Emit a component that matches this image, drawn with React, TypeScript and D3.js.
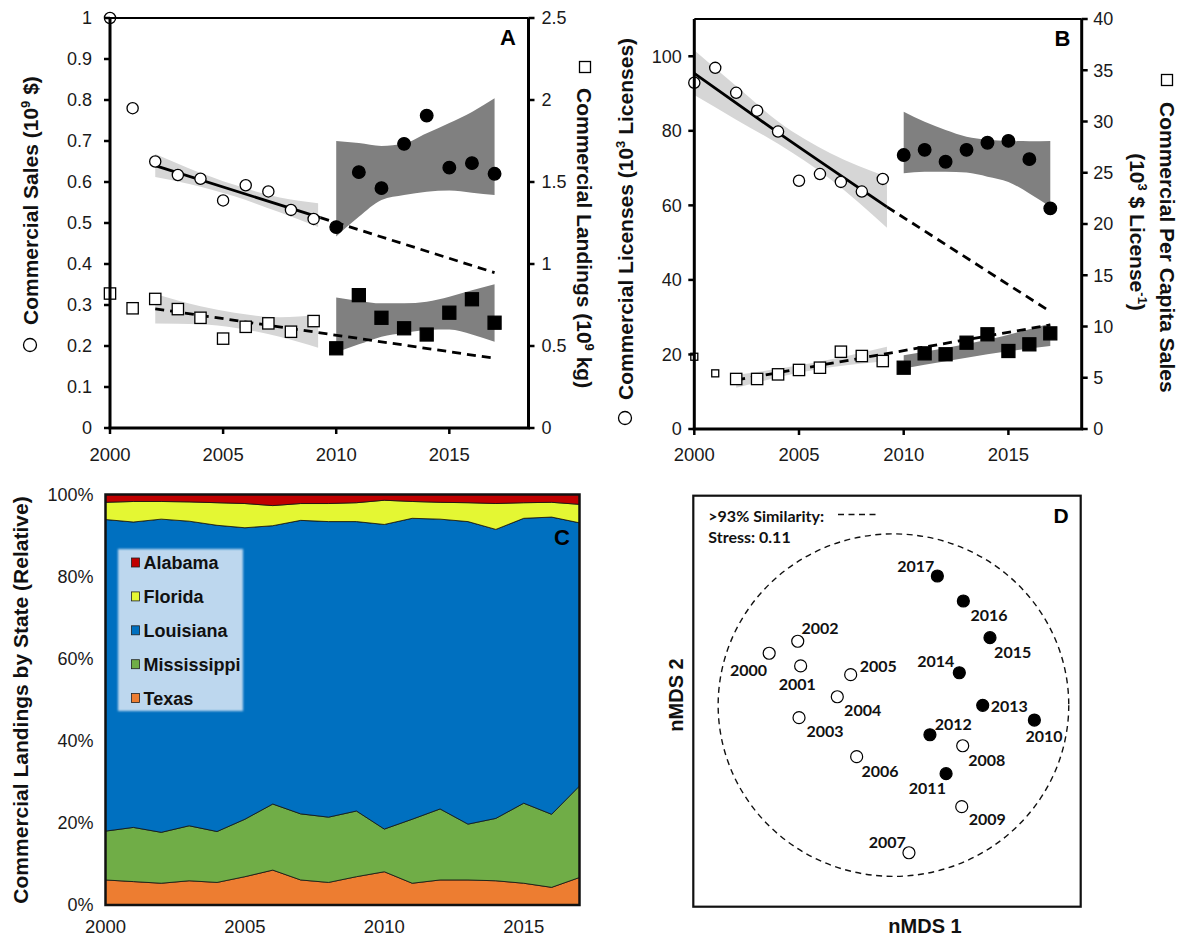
import React from "react";
import * as d3 from "d3";

// ---------- shared categories ----------
const YEARS = [2000, 2001, 2002, 2003, 2004, 2005, 2006, 2007, 2008, 2009, 2010, 2011, 2012, 2013, 2014, 2015, 2016, 2017];
const FILLED_FROM = 2010;
const X_TICKS = [2000, 2005, 2010, 2015];
const POST_YEARS = [2010, 2011, 2012, 2013, 2014, 2015, 2016, 2017];

// ---------- Panel A ----------
const salesA = [1.0, 0.78, 0.65, 0.617, 0.608, 0.555, 0.592, 0.577, 0.532, 0.51, 0.49, 0.624, 0.585, 0.693, 0.762, 0.635, 0.646, 0.62];
const landingsA = [0.82, 0.73, 0.787, 0.725, 0.672, 0.545, 0.617, 0.638, 0.587, 0.652, 0.486, 0.81, 0.672, 0.608, 0.57, 0.703, 0.785, 0.642];
const salesFitYearsA = [2002, 2009.3];
const salesFitA = [0.64, 0.513];
const salesProjYearsA = [2009.3, 2017];
const salesProjA = [0.513, 0.379];
const landingsFitYearsA = [2002, 2017];
const landingsFitA = [0.727, 0.425];
const salesBandYearsA = [2002, 2003.5, 2005.5, 2007.5, 2009.2];
const salesBandLoA = [0.612, 0.595, 0.565, 0.526, 0.49];
const salesBandHiA = [0.668, 0.633, 0.593, 0.562, 0.548];
const salesBandLoA2 = [0.467, 0.515, 0.556, 0.568, 0.576, 0.579, 0.574, 0.568];
const salesBandHiA2 = [0.70, 0.695, 0.688, 0.694, 0.719, 0.744, 0.771, 0.804];
const landingsBandYearsA = [2002, 2004, 2005.5, 2007.5, 2009.2];
const landingsBandLoA = [0.637, 0.632, 0.612, 0.556, 0.49];
const landingsBandHiA = [0.817, 0.742, 0.702, 0.676, 0.689];
const landingsBandLoA2 = [0.462, 0.51, 0.557, 0.58, 0.598, 0.6, 0.57, 0.526];
const landingsBandHiA2 = [0.795, 0.775, 0.76, 0.76, 0.77, 0.8, 0.84, 0.876];
const leftTicksA = [0, 0.1, 0.2, 0.3, 0.4, 0.5, 0.6, 0.7, 0.8, 0.9, 1];
const rightTicksA = [0, 0.5, 1, 1.5, 2, 2.5];

// ---------- Panel B ----------
const licensesB = [92.9, 96.9, 90.2, 85.4, 79.8, 66.6, 68.4, 66.3, 63.7, 67.1, 73.5, 74.9, 71.7, 74.9, 76.8, 77.3, 72.4, 59.2];
const perCapitaB = [7.05, 5.43, 4.88, 4.88, 5.33, 5.76, 5.98, 7.54, 7.12, 6.63, 5.98, 7.38, 7.29, 8.42, 9.24, 7.61, 8.26, 9.33];
const licFitYearsB = [2000, 2004, 2009.2];
const licFitB = [95.4, 79.5, 59.6];
const licProjYearsB = [2009.2, 2017];
const licProjB = [59.6, 31.5];
const pcFitYearsB = [2002, 2017];
const pcFitB = [4.78, 10.15];
const licBandYearsB = [2000, 2002, 2004, 2006.5, 2009.2];
const licBandLoB = [89.6, 83, 76.5, 67, 54];
const licBandHiB = [101.6, 92, 82.5, 74, 67.7];
const licBandLoB2 = [68.6, 69, 69, 68.8, 67.7, 66.3, 63.2, 59.6];
const licBandHiB2 = [85.1, 82.4, 80.2, 78.4, 77.6, 77.3, 77.2, 77.3];
const pcBandYearsB = [2002, 2005.5, 2009.2];
const pcBandLoB = [4.03, 5.68, 6.63];
const pcBandHiB = [5.27, 6.38, 8.03];
const pcBandYearsB2 = [2010, 2012, 2014, 2017];
const pcBandLoB2 = [5.9, 6.6, 7.3, 8.1];
const pcBandHiB2 = [7.2, 7.9, 8.7, 10.3];
const leftTicksB = [0, 20, 40, 60, 80, 100];
const rightTicksB = [0, 5, 10, 15, 20, 25, 30, 35, 40];
const SMALL_SQUARE_YEARS_B = [2000, 2001];

// ---------- Panel C ----------
const STATES = ["Texas", "Mississippi", "Louisiana", "Florida", "Alabama"];
const texasC = [6.1, 5.7, 5.3, 5.9, 5.5, 6.9, 8.5, 6.1, 5.5, 6.9, 8.1, 5.3, 6.1, 6.1, 5.9, 5.3, 4.3, 6.7];
const mississippiC = [11.9, 13.2, 12.4, 13.4, 12.4, 14.0, 16.1, 16.1, 15.9, 16.0, 10.4, 15.6, 17.3, 13.6, 15.2, 19.5, 17.8, 22.3];
const louisianaC = [75.9, 74.4, 76.3, 74.2, 74.6, 71.0, 67.8, 71.5, 72.0, 70.5, 74.2, 73.3, 70.6, 73.7, 70.4, 69.4, 72.4, 64.1];
const floridaC = [4.2, 5.0, 4.3, 4.7, 5.5, 5.9, 4.9, 4.1, 4.4, 4.6, 5.9, 4.1, 4.1, 4.6, 6.3, 3.8, 3.6, 4.5];
const alabamaC = [1.9, 1.7, 1.7, 1.8, 2.0, 2.2, 2.7, 2.2, 2.2, 2.0, 1.4, 1.7, 1.9, 2.0, 2.2, 2.0, 1.9, 2.4];
const percentTicksC = [0, 20, 40, 60, 80, 100];
const STATE_COLORS: Record<string, string> = {
  Alabama: "#c00000",
  Florida: "#e4f733",
  Louisiana: "#0070c0",
  Mississippi: "#70ad47",
  Texas: "#ed7d31",
};
const LEGEND_ORDER = ["Alabama", "Florida", "Louisiana", "Mississippi", "Texas"];

// ---------- Panel D ----------
const nmds1 = [-0.73, -0.535, -0.553, -0.545, -0.308, -0.225, -0.188, 0.136, 0.469, 0.463, 0.913, 0.366, 0.266, 0.593, 0.448, 0.638, 0.473, 0.312];
const nmds2 = [0.28, 0.206, 0.35, -0.096, 0.026, 0.155, -0.324, -0.885, -0.26, -0.616, -0.11, -0.423, -0.196, -0.024, 0.166, 0.371, 0.585, 0.731];
const similarityEllipse = { cx: 0.04, cy: -0.023, rx: 1.086, ry: 1.0 };
// label placement (layout only)
const LABEL_OFFSETS_D: [number, number][] = [
  [-20.7, 17.4], [-3.4, 18.3], [22.3, -13], [26, 13.3], [25.4, 13.3], [27.6, -8.7],
  [23.3, 14.3], [-21.7, -10.4], [24, 14.3], [25.6, 12.3], [9.7, 16.7], [-18.7, 15],
  [23.3, -10.4], [26.6, 0.7], [-23.6, -11.7], [22.7, 14.6], [25.7, 14], [-21.6, -10],
];

const FONT = "'Liberation Sans', Arial, Helvetica, sans-serif";
const DFONT = "Lato, 'Open Sans', sans-serif";
const LIGHT = "#d6d6d6";
const DARK = "#808080";

type Axis = "L" | "R";
type Series = { vals: number[]; axis: Axis; shape: "circle" | "square" };
type Band = { yrs: number[]; lo: number[]; hi: number[]; axis: Axis; fill: string };
type Fit = { yrs: number[]; vals: number[]; axis: Axis; dashed: boolean };

type PanelCfg = {
  x0: number; x1: number; yTop: number; yBot: number;
  lDom: [number, number]; rDom: [number, number];
  lTicks: number[]; rTicks: number[];
  lGap: number; rGap: number;
  series: Series[]; bands: Band[]; fits: Fit[];
  letter: string; letterX: number; letterY: number;
  smallSquares?: number[];
};

function DualPanel({ cfg }: { cfg: PanelCfg }) {
  const x = d3.scaleLinear().domain([2000, 2018.5]).range([cfg.x0, cfg.x1]);
  const yL = d3.scaleLinear().domain(cfg.lDom).range([cfg.yBot, cfg.yTop]);
  const yR = d3.scaleLinear().domain(cfg.rDom).range([cfg.yBot, cfg.yTop]);
  const ys = (a: Axis) => (a === "L" ? yL : yR);

  const bandPath = (b: Band) =>
    d3
      .area<number>()
      .x((_, i) => x(b.yrs[i]))
      .y0((_, i) => ys(b.axis)(b.lo[i]))
      .y1((_, i) => ys(b.axis)(b.hi[i]))
      .curve(d3.curveMonotoneX)(b.lo) || "";
  const fitPath = (f: Fit) =>
    d3
      .line<number>()
      .x((_, i) => x(f.yrs[i]))
      .y((v) => ys(f.axis)(v))
      .curve(d3.curveMonotoneX)(f.vals) || "";

  const fmt = (v: number) => String(+v.toFixed(2));

  return (
    <g>
      {cfg.bands.map((b, i) => (
        <path key={"b" + i} d={bandPath(b)} fill={b.fill} stroke="none" />
      ))}
      {cfg.fits.map((f, i) => (
        <path
          key={"f" + i}
          d={fitPath(f)}
          fill="none"
          stroke="#000"
          strokeWidth={2.8}
          strokeDasharray={f.dashed ? "9,6" : undefined}
        />
      ))}
      {cfg.series.map((s, si) =>
        s.vals.map((v, i) => {
          const yr = YEARS[i];
          const filled = yr >= FILLED_FROM;
          const cx = x(yr);
          const cy = ys(s.axis)(v);
          if (s.shape === "circle") {
            return (
              <circle
                key={`s${si}-${i}`}
                cx={cx}
                cy={cy}
                r={filled ? 6.3 : 5.6}
                fill={filled ? "#000" : "#fff"}
                stroke="#000"
                strokeWidth={1.3}
              />
            );
          }
          const small = cfg.smallSquares && cfg.smallSquares.includes(yr);
          const side = small ? 7 : filled ? 13 : 11.3;
          return (
            <rect
              key={`s${si}-${i}`}
              x={cx - side / 2}
              y={cy - side / 2}
              width={side}
              height={side}
              fill={filled ? "#000" : "#fff"}
              stroke="#000"
              strokeWidth={1.3}
            />
          );
        })
      )}
      {/* frame */}
      <line x1={cfg.x0} x2={cfg.x1} y1={cfg.yTop} y2={cfg.yTop} stroke="#000" strokeWidth={2} />
      <line x1={cfg.x0} x2={cfg.x0} y1={cfg.yTop} y2={cfg.yBot} stroke="#000" strokeWidth={3} />
      <line x1={cfg.x1} x2={cfg.x1} y1={cfg.yTop} y2={cfg.yBot} stroke="#000" strokeWidth={3} />
      <line x1={cfg.x0 - 1.5} x2={cfg.x1 + 1.5} y1={cfg.yBot} y2={cfg.yBot} stroke="#000" strokeWidth={3} />
      {cfg.lTicks.map((t) => (
        <g key={"lt" + t}>
          <line x1={cfg.x0 - 6} x2={cfg.x0} y1={yL(t)} y2={yL(t)} stroke="#000" strokeWidth={2.5} />
          <text x={cfg.x0 - cfg.lGap} y={yL(t)} dy="0.36em" textAnchor="end" fontFamily={FONT} fontSize={18} fill="#1a1a1a">
            {fmt(t)}
          </text>
        </g>
      ))}
      {cfg.rTicks.map((t) => (
        <g key={"rt" + t}>
          <line x1={cfg.x1} x2={cfg.x1 + 6} y1={yR(t)} y2={yR(t)} stroke="#000" strokeWidth={2.5} />
          <text x={cfg.x1 + cfg.rGap} y={yR(t)} dy="0.36em" textAnchor="start" fontFamily={FONT} fontSize={18} fill="#1a1a1a">
            {fmt(t)}
          </text>
        </g>
      ))}
      {X_TICKS.map((t) => (
        <g key={"xt" + t}>
          <line x1={x(t)} x2={x(t)} y1={cfg.yBot} y2={cfg.yBot + 6} stroke="#000" strokeWidth={2.5} />
          <text x={x(t)} y={461} textAnchor="middle" fontFamily={FONT} fontSize={18.5} fill="#1a1a1a">
            {t}
          </text>
        </g>
      ))}
      <text x={cfg.letterX} y={cfg.letterY} textAnchor="middle" fontFamily={FONT} fontWeight="bold" fontSize={22}>
        {cfg.letter}
      </text>
    </g>
  );
}

const cfgA: PanelCfg = {
  x0: 110, x1: 528.5, yTop: 18, yBot: 428,
  lDom: [0, 1], rDom: [0, 2.5],
  lTicks: leftTicksA, rTicks: rightTicksA,
  lGap: 18, rGap: 13,
  series: [
    { vals: salesA, axis: "L", shape: "circle" },
    { vals: landingsA, axis: "R", shape: "square" },
  ],
  bands: [
    { yrs: salesBandYearsA, lo: salesBandLoA, hi: salesBandHiA, axis: "L", fill: LIGHT },
    { yrs: POST_YEARS, lo: salesBandLoA2, hi: salesBandHiA2, axis: "L", fill: DARK },
    { yrs: landingsBandYearsA, lo: landingsBandLoA, hi: landingsBandHiA, axis: "R", fill: LIGHT },
    { yrs: POST_YEARS, lo: landingsBandLoA2, hi: landingsBandHiA2, axis: "R", fill: DARK },
  ],
  fits: [
    { yrs: salesFitYearsA, vals: salesFitA, axis: "L", dashed: false },
    { yrs: salesProjYearsA, vals: salesProjA, axis: "L", dashed: true },
    { yrs: landingsFitYearsA, vals: landingsFitA, axis: "R", dashed: true },
  ],
  letter: "A", letterX: 508, letterY: 45,
};

const cfgB: PanelCfg = {
  x0: 694.3, x1: 1081.7, yTop: 19, yBot: 429,
  lDom: [0, 110], rDom: [0, 40],
  lTicks: leftTicksB, rTicks: rightTicksB,
  lGap: 12.5, rGap: 11.5,
  series: [
    { vals: licensesB, axis: "L", shape: "circle" },
    { vals: perCapitaB, axis: "R", shape: "square" },
  ],
  bands: [
    { yrs: licBandYearsB, lo: licBandLoB, hi: licBandHiB, axis: "L", fill: LIGHT },
    { yrs: POST_YEARS, lo: licBandLoB2, hi: licBandHiB2, axis: "L", fill: DARK },
    { yrs: pcBandYearsB, lo: pcBandLoB, hi: pcBandHiB, axis: "R", fill: LIGHT },
    { yrs: pcBandYearsB2, lo: pcBandLoB2, hi: pcBandHiB2, axis: "R", fill: DARK },
  ],
  fits: [
    { yrs: licFitYearsB, vals: licFitB, axis: "L", dashed: false },
    { yrs: licProjYearsB, vals: licProjB, axis: "L", dashed: true },
    { yrs: pcFitYearsB, vals: pcFitB, axis: "R", dashed: true },
  ],
  letter: "B", letterX: 1062.5, letterY: 45.7,
  smallSquares: SMALL_SQUARE_YEARS_B,
};

function Sup({ children }: { children: React.ReactNode }) {
  return null;
}

function PanelC() {
  const x = d3.scaleLinear().domain([2000, 2017]).range([105.5, 579.5]);
  const y = d3.scaleLinear().domain([0, 100]).range([905, 494.5]);
  const cols: Record<string, number[]> = {
    Texas: texasC,
    Mississippi: mississippiC,
    Louisiana: louisianaC,
    Florida: floridaC,
    Alabama: alabamaC,
  };
  const rows = YEARS.map((yr, i) => {
    const r: any = { year: yr };
    STATES.forEach((s) => (r[s] = cols[s][i]));
    return r;
  });
  const stack = d3.stack<any>().keys(STATES)(rows);
  const area = d3
    .area<any>()
    .x((d) => x(d.data.year))
    .y0((d) => y(d[0]))
    .y1((d) => y(d[1]));
  return (
    <g>
      <defs>
        <filter id="soft" x="-10%" y="-10%" width="120%" height="120%">
          <feGaussianBlur stdDeviation="1.3" />
        </filter>
      </defs>
      {stack.map((layer) => (
        <path key={layer.key} d={area(layer) || ""} fill={STATE_COLORS[layer.key]} stroke="#111" strokeWidth={0.8} />
      ))}
      <rect x={105.5} y={494.5} width={474} height={410.5} fill="none" stroke="#111" strokeWidth={2.5} />
      {percentTicksC.map((t) => (
        <text key={t} x={93.5} y={y(t)} dy="0.36em" textAnchor="end" fontFamily={FONT} fontSize={18} fill="#1a1a1a">
          {t + "%"}
        </text>
      ))}
      {X_TICKS.map((t) => (
        <text key={t} x={x(t)} y={933} textAnchor="middle" fontFamily={FONT} fontSize={18.5} fill="#1a1a1a">
          {t}
        </text>
      ))}
      <rect x={118} y={549} width={125} height={162} fill="#bdd7ee" filter="url(#soft)" />
      {LEGEND_ORDER.map((s, i) => (
        <g key={s}>
          <rect x={131.5} y={558 + i * 33.9} width={8} height={9} fill={STATE_COLORS[s]} stroke="#222" strokeWidth={0.8} />
          <text x={143.5} y={569.3 + i * 33.9} fontFamily={FONT} fontWeight="bold" fontSize={18} fill="#111">
            {s}
          </text>
        </g>
      ))}
      <text x={562} y={545} textAnchor="middle" fontFamily={FONT} fontWeight="bold" fontSize={22}>
        C
      </text>
      <text
        transform="translate(28,700) rotate(-90)"
        textAnchor="middle"
        fontFamily={FONT}
        fontWeight="bold"
        fontSize={21}
        fill="#111"
      >
        Commercial Landings by State (Relative)
      </text>
    </g>
  );
}

function PanelD() {
  const x = d3.scaleLinear().domain([-1.2, 1.2]).range([693.3, 1080.7]);
  const y = d3.scaleLinear().domain([-1.2, 1.2]).range([906.7, 495.7]);
  const e = similarityEllipse;
  return (
    <g>
      <rect x={693.3} y={495.7} width={387.4} height={411} fill="#fff" stroke="#111" strokeWidth={2.2} />
      <ellipse
        cx={x(e.cx)}
        cy={y(e.cy)}
        rx={x(e.cx + e.rx) - x(e.cx)}
        ry={y(e.cy) - y(e.cy + e.ry)}
        fill="none"
        stroke="#111"
        strokeWidth={1.4}
        strokeDasharray="6,4.5"
      />
      {YEARS.map((yr, i) => {
        const cx = x(nmds1[i]);
        const cy = y(nmds2[i]);
        const [dx, dy] = LABEL_OFFSETS_D[i];
        const filled = yr >= FILLED_FROM;
        return (
          <g key={yr}>
            <circle cx={cx} cy={cy} r={6} fill={filled ? "#000" : "#fff"} stroke="#000" strokeWidth={1.2} />
            <text x={cx + dx} y={cy + dy} dy="0.36em" textAnchor="middle" fontFamily={DFONT} fontWeight="bold" fontSize={16} fill="#111">
              {yr}
            </text>
          </g>
        );
      })}
      <text x={708.3} y={521.5} fontFamily={DFONT} fontWeight="bold" fontSize={16} fill="#111">
        {">93% Similarity:"}
      </text>
      <line x1={838} x2={879} y1={514.5} y2={514.5} stroke="#111" strokeWidth={1.3} strokeDasharray="6,4.5" />
      <text x={708.3} y={543} fontFamily={DFONT} fontWeight="bold" fontSize={16} fill="#111">
        Stress: 0.11
      </text>
      <text x={1061} y={523} textAnchor="middle" fontFamily={FONT} fontWeight="bold" fontSize={21}>
        D
      </text>
      <text x={925} y={933} textAnchor="middle" fontFamily={FONT} fontWeight="bold" fontSize={20} fill="#111">
        nMDS 1
      </text>
      <text transform="translate(683,695) rotate(-90)" textAnchor="middle" fontFamily={FONT} fontWeight="bold" fontSize={20} fill="#111">
        nMDS 2
      </text>
    </g>
  );
}

function Titles() {
  const t = { fontFamily: FONT, fontWeight: "bold" as const, fontSize: 21, fill: "#111" };
  return (
    <g>
      {/* A left */}
      <circle cx={30} cy={345} r={6.5} fill="#fff" stroke="#000" strokeWidth={1.3} />
      <text transform="translate(38,325) rotate(-90)" {...t}>
        Commercial Sales (10<tspan dy={-8} fontSize={13}>9</tspan>
        <tspan dy={8}> $)</tspan>
      </text>
      {/* A right */}
      <rect x={579.5} y={61.5} width={11} height={11} fill="#fff" stroke="#000" strokeWidth={1.3} />
      <text transform="translate(577,88) rotate(90)" {...t}>
        Commercial Landings (10<tspan dy={-8} fontSize={13}>9</tspan>
        <tspan dy={8}> kg)</tspan>
      </text>
      {/* B left */}
      <circle cx={625} cy={418} r={6.5} fill="#fff" stroke="#000" strokeWidth={1.3} />
      <text transform="translate(633,400) rotate(-90)" {...t}>
        Commercial Licenses (10<tspan dy={-8} fontSize={13}>3</tspan>
        <tspan dy={8}> Licenses)</tspan>
      </text>
      {/* B right */}
      <rect x={1161.5} y={74.5} width={11} height={11} fill="#fff" stroke="#000" strokeWidth={1.3} />
      <text transform="translate(1160,102) rotate(90)" {...t}>
        Commercial Per Capita Sales
      </text>
      <text transform="translate(1130,232) rotate(90)" textAnchor="middle" {...t}>
        (10<tspan dy={-8} fontSize={13}>3</tspan>
        <tspan dy={8}> $ License</tspan>
        <tspan dy={-8} fontSize={13}>-1</tspan>
        <tspan dy={8}>)</tspan>
      </text>
    </g>
  );
}

export default function App() {
  return (
    <svg
      width={1179}
      height={936}
      viewBox="0 0 1179 936"
      style={{ position: "absolute", left: 0, top: 0, background: "#fff" }}
    >
      <rect width={1179} height={936} fill="#fff" />
      <DualPanel cfg={cfgA} />
      <DualPanel cfg={cfgB} />
      <PanelC />
      <PanelD />
      <Titles />
    </svg>
  );
}
